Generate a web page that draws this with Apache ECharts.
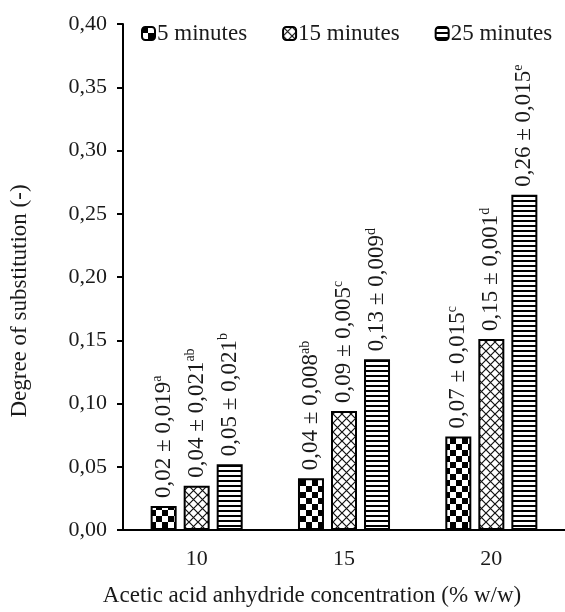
<!DOCTYPE html>
<html>
<head>
<meta charset="utf-8">
<script src="https://cdn.jsdelivr.net/npm/echarts@6/dist/echarts.min.js"></script>
<style>
html,body{margin:0;padding:0;background:#fff;}
#chart{width:565px;height:612px;}
</style>
</head>
<body>
<div id="chart"></div>
<script>
// ---- data ----
var categories = ['10', '15', '20'];
var seriesNames = ['5 minutes', '15 minutes', '25 minutes'];
var values5 = [0.019, 0.041, 0.074];
var values15 = [0.035, 0.094, 0.151];
var values25 = [0.052, 0.135, 0.265];
var labels5 = ['0,02 ± 0,019', '0,04 ± 0,008', '0,07 ± 0,015'];
var labels15 = ['0,04 ± 0,021', '0,09 ± 0,005', '0,15 ± 0,001'];
var labels25 = ['0,05 ± 0,021', '0,13 ± 0,009', '0,26 ± 0,015'];
var sup5 = ['a', 'ab', 'c'];
var sup15 = ['ab', 'c', 'd'];
var sup25 = ['b', 'd', 'e'];
var yTicks = [0, 0.05, 0.10, 0.15, 0.20, 0.25, 0.30, 0.35, 0.40];
var yTitle = 'Degree of substitution (-)';
var xTitle = 'Acetic acid anhydride concentration (% w/w)';

// ---- patterns ----
function makeCanvas(w, h) {
  var c = document.createElement('canvas');
  c.width = w; c.height = h;
  return c;
}
function checker() {
  var s = 6, c = makeCanvas(s * 2, s * 2), g = c.getContext('2d');
  g.fillStyle = '#fff'; g.fillRect(0, 0, s * 2, s * 2);
  g.fillStyle = '#000';
  g.fillRect(0, 0, s, s); g.fillRect(s, s, s, s);
  return c;
}
function crosshatch() {
  var s = 9, c = makeCanvas(s, s), g = c.getContext('2d');
  g.fillStyle = '#fff'; g.fillRect(0, 0, s, s);
  g.strokeStyle = '#111'; g.lineWidth = 1.2;
  g.beginPath();
  g.moveTo(-1, -1); g.lineTo(s + 1, s + 1);
  g.moveTo(s + 1, -1); g.lineTo(-1, s + 1);
  g.stroke();
  return c;
}
function stripes() {
  var c = makeCanvas(8, 5), g = c.getContext('2d');
  g.fillStyle = '#fff'; g.fillRect(0, 0, 8, 5);
  g.fillStyle = '#000'; g.fillRect(0, 0, 8, 2);
  return c;
}
var patterns = [
  { image: checker(), repeat: 'repeat' },
  { image: crosshatch(), repeat: 'repeat' },
  { image: stripes(), repeat: 'repeat' }
];

var FONT = '"Liberation Serif", "Times New Roman", serif';
var TXT = '#1a1a1a';

function buildSeries(name, vals, labs, sups, pat) {
  return {
    name: name,
    type: 'bar',
    barWidth: 26,
    barGap: '27%',
    data: vals.map(function (v, i) {
      return {
        value: v,
        label: {
          formatter: '{m|' + labs[i] + '}{s|' + sups[i] + '}'
        }
      };
    }),
    itemStyle: { color: pat, borderColor: '#000', borderWidth: 2 },
    label: {
      show: true,
      position: 'top',
      rotate: 90,
      align: 'left',
      verticalAlign: 'middle',
      distance: 8,
      color: TXT,
      rich: {
        m: { fontFamily: FONT, fontSize: 23, color: TXT, lineHeight: 26 },
        s: { fontFamily: FONT, fontSize: 14, color: TXT, lineHeight: 15, verticalAlign: 'top' }
      }
    }
  };
}

var chart = echarts.init(document.getElementById('chart'), null, { renderer: 'canvas' });
chart.setOption({
  animation: false,
  backgroundColor: '#fff',
  textStyle: { fontFamily: FONT, color: TXT },
  legend: {
    data: seriesNames,
    left: 141,
    top: 22,
    padding: 0,
    itemWidth: 13,
    itemHeight: 13,
    itemGap: 35,
    icon: 'roundRect',
    textStyle: { fontFamily: FONT, fontSize: 23, color: TXT, padding: [0, 0, 0, -3] }
  },
  grid: { left: 123, right: 0, top: 24, bottom: 75, containLabel: false },
  xAxis: {
    type: 'category',
    data: categories,
    name: xTitle,
    nameLocation: 'middle',
    nameGap: 54,
    nameTextStyle: { fontFamily: FONT, fontSize: 23, color: TXT, padding: [0, 64, 0, 0] },
    axisLine: { lineStyle: { color: '#000', width: 2 } },
    axisTick: { show: false },
    axisLabel: { fontFamily: FONT, fontSize: 22, color: TXT, margin: 18 }
  },
  yAxis: {
    type: 'value',
    min: 0,
    max: 0.4,
    interval: 0.05,
    name: yTitle,
    nameLocation: 'middle',
    nameGap: 92,
    nameTextStyle: { fontFamily: FONT, fontSize: 23, color: TXT, padding: [0, 48, 0, 0] },
    splitLine: { show: false },
    axisLine: { show: true, lineStyle: { color: '#000', width: 2 } },
    axisTick: { show: true, length: 6, lineStyle: { color: '#000', width: 2 } },
    axisLabel: {
      fontFamily: FONT, fontSize: 22, color: TXT, margin: 16,
      formatter: function (v) {
        for (var i = 0; i < yTicks.length; i++) {
          if (Math.abs(yTicks[i] - v) < 1e-9) return yTicks[i].toFixed(2).replace('.', ',');
        }
        return '';
      }
    }
  },
  series: [
    buildSeries(seriesNames[0], values5, labels5, sup5, patterns[0]),
    buildSeries(seriesNames[1], values15, labels15, sup15, patterns[1]),
    buildSeries(seriesNames[2], values25, labels25, sup25, patterns[2])
  ]
});
</script>
</body>
</html>
